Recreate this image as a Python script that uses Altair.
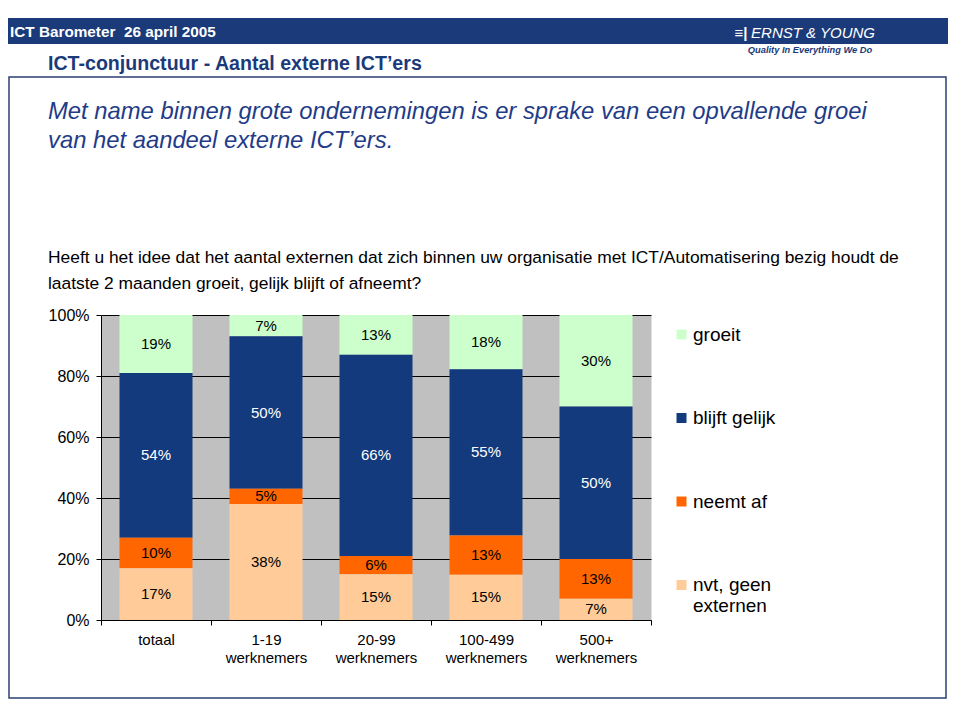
import altair as alt
import pandas as pd

# ---- data ----
categories = ["totaal", "1-19 werknemers", "20-99 werknemers", "100-499 werknemers", "500+ werknemers"]
series = ["groeit", "blijft gelijk", "neemt af", "nvt, geen externen"]
groeit = [19, 7, 13, 18, 30]
blijft_gelijk = [54, 50, 66, 55, 50]
neemt_af = [10, 5, 6, 13, 13]
nvt = [17, 38, 15, 15, 7]
colors = ["#CCFFCC", "#133A7C", "#FF6600", "#FFCC99"]
y_ticks = [0, 0.2, 0.4, 0.6, 0.8, 1.0]

header_text = ["ICT Barometer\u00a0 26 april 2005"]
title_text = ["ICT-conjunctuur - Aantal externe ICT\u2019ers"]
subtitle_lines = ["Met name binnen grote ondernemingen is er sprake van een opvallende groei",
                  "van het aandeel externe ICT\u2019ers."]
question_lines = ["Heeft u het idee dat het aantal externen dat zich binnen uw organisatie met ICT/Automatisering bezig houdt de",
                  "laatste 2 maanden groeit, gelijk blijft of afneemt?"]
logo_text = ["ERNST & YOUNG"]
tagline_text = ["Quality In Everything We Do"]

rows = []
for s_idx, (name, vals) in enumerate(zip(series, [groeit, blijft_gelijk, neemt_af, nvt])):
    for c, v in zip(categories, vals):
        rows.append({"cat": c, "series": name, "value": v, "order": len(series) - 1 - s_idx})
df = pd.DataFrame(rows)

NAVY = "#1B3A7A"
SANS = "Liberation Sans, Arial, Helvetica, sans-serif"

W, H = 550, 305

base = alt.Chart(df).transform_stack(
    stack="value", groupby=["cat"], as_=["y0", "y1"],
    sort=[alt.SortField("order", "ascending")], offset="normalize"
)

x_enc = alt.X("cat:N", sort=categories, title=None,
              scale=alt.Scale(paddingInner=0, paddingOuter=0),
              axis=alt.Axis(labelExpr="split(datum.label, ' ')", labelAngle=0,
                            tickBand="extent", labelFont=SANS, labelFontSize=15,
                            labelColor="black", labelLineHeight=18, labelPadding=7,
                            domainColor="black", tickColor="black", tickSize=5))

bars = base.mark_bar(size=73).encode(
    x=x_enc,
    y=alt.Y("y0:Q", scale=alt.Scale(domain=[0, 1]), title=None,
            axis=alt.Axis(values=y_ticks, format=".0%", grid=True, gridColor="black",
                          gridWidth=1, domainColor="black", tickColor="black", tickSize=5,
                          labelFont=SANS, labelFontSize=16, labelColor="black", labelPadding=7)),
    y2="y1:Q",
    color=alt.Color("series:N", scale=alt.Scale(domain=series, range=colors),
                    legend=alt.Legend(title=None, orient="none", legendX=571, legendY=10,
                                      symbolType="square", symbolSize=100, symbolStrokeWidth=0,
                                      labelFont=SANS, labelFontSize=19, labelColor="black",
                                      labelOffset=2, rowPadding=63.5, labelLimit=200,
                                      labelExpr="datum.label == 'nvt, geen externen' ? ['nvt, geen', 'externen'] : datum.label")),
)

labels = base.transform_calculate(
    mid="(datum.y0 + datum.y1) / 2", lab="datum.value + '%'"
).mark_text(font=SANS, fontSize=15, baseline="middle").encode(
    x=alt.X("cat:N", sort=categories),
    y=alt.Y("mid:Q"),
    text="lab:N",
    color=alt.condition(alt.datum.series == "blijft gelijk", alt.value("white"), alt.value("black")),
)

# ---- slide decorations (positions relative to plot origin) ----
def txt(lines, x, y, align="left", **kw):
    return alt.Chart(pd.DataFrame({"t": lines})).mark_text(align=align, baseline="alphabetic", **kw).encode(
        text="t:N", x=alt.value(x), y=alt.value(y))

header_bar = alt.Chart(pd.DataFrame({"a": [0]})).mark_rect(color=NAVY).encode(
    x=alt.value(-93), x2=alt.value(847), y=alt.value(-297), y2=alt.value(-271))
frame = alt.Chart(pd.DataFrame({"a": [0]})).mark_rect(fill="transparent", stroke="#2A3F73", strokeWidth=1.5).encode(
    x=alt.value(-92), x2=alt.value(845), y=alt.value(-238), y2=alt.value(383))

header = txt(header_text, -91, -278, font=SANS, fontSize=15.3, fontWeight="bold", color="white")
logo_icon = txt(["\u2261|"], 640, -277, align="center", font=SANS, fontSize=15, fontWeight="bold", color="white")
logo = txt(logo_text, 712, -277, align="center", font=SANS, fontSize=15, fontStyle="italic", color="white")
tagline = txt(tagline_text, 709, -262, align="center", font=SANS, fontSize=9.3, fontStyle="italic",
              fontWeight="bold", color=NAVY)
title = txt(title_text, -53, -245, font=SANS, fontSize=19.6, fontWeight="bold", color=NAVY)
sub1 = txt(subtitle_lines[:1], -53, -196, font=SANS, fontSize=23.8, fontStyle="italic", color="#1F3C88")
sub2 = txt(subtitle_lines[1:], -53, -167, font=SANS, fontSize=23.8, fontStyle="italic", color="#1F3C88")
q1 = txt(question_lines[:1], -53, -52, font=SANS, fontSize=17.4, color="black")
q2 = txt(question_lines[1:], -53, -26, font=SANS, fontSize=17.4, color="black")

chart = alt.layer(
    header_bar, frame, bars, labels, header, logo_icon, logo, tagline, title, sub1, sub2, q1, q2
).properties(
    width=W, height=H,
    padding={"left": 93, "top": 307, "right": 297, "bottom": 80},
    autosize=alt.AutoSizeParams(type="none"),
).configure_view(fill="#C0C0C0", stroke="transparent")

chart.save("out.html", embed_options={"renderer": "svg", "actions": False})
